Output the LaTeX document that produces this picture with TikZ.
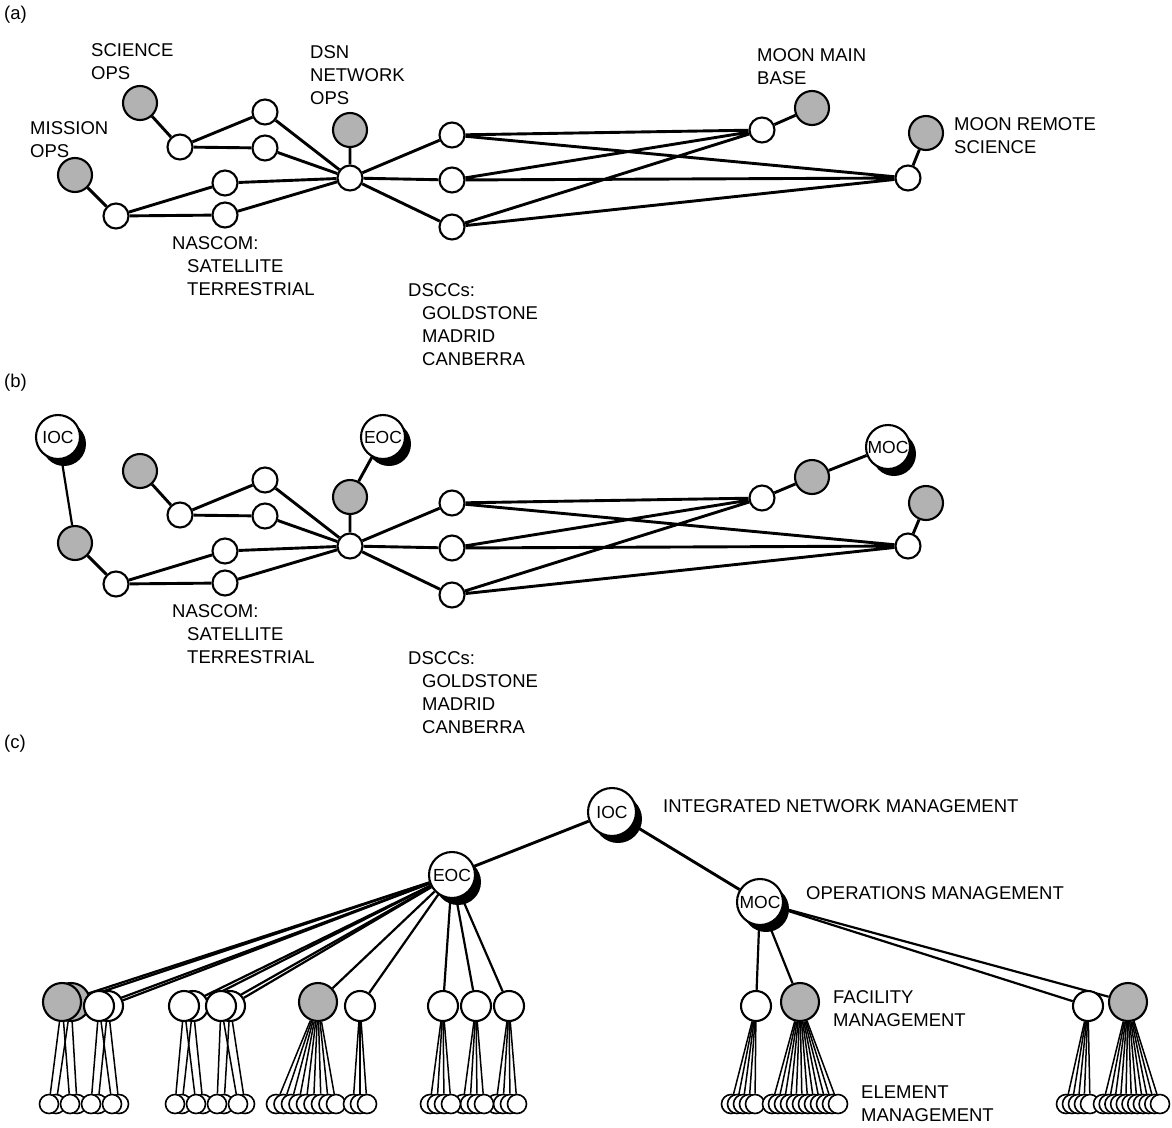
\documentclass[tikz,border=0pt]{standalone}
\usepackage{fontspec}
\setmainfont{Liberation Sans}
\usetikzlibrary{shadows,backgrounds}

\begin{document}
\begin{tikzpicture}[x=1pt, y=-1pt,
    site/.style={circle, draw=black, line width=2.1pt, fill=white,
        minimum size=25pt, inner sep=0pt},
    opsite/.style={site, fill=black!30, minimum size=34pt},
    opctr/.style={site, minimum size=44pt, font=\fontsize{17.5}{17.5}\selectfont,
        drop shadow={shadow xshift=6pt, shadow yshift=-7pt, opacity=1, fill=black}},
    net/.style={site, minimum size=30pt},
    fac/.style={opsite, minimum size=38pt},
    elem/.style={site, line width=1.6pt, minimum size=19pt},
    link/.style={line width=2.9pt},
    limb/.style={line width=2.2pt},
    twig/.style={line width=1.5pt},
    txt/.style={anchor=north west, align=left, inner sep=0pt,
        font=\fontsize{18.5}{23}\selectfont}
]
    \useasboundingbox (0,0) rectangle (1172,1127);

    % (a)
    \node[txt, anchor=base west] at (4,19) {(a)};
    \node[opsite] (scia) at (140,103) {};
    \node[opsite] (misa) at (75,175) {};
    \node[opsite] (dsna) at (350,130) {};
    \node[opsite] (mmba) at (812,108) {};
    \node[opsite] (mrsa) at (926,133) {};
    \node[site] (s1a) at (180,147) {};
    \node[site] (u1a) at (265,112) {};
    \node[site] (u2a) at (265,148) {};
    \node[site] (m1a) at (116,216) {};
    \node[site] (n1a) at (225,183) {};
    \node[site] (n2a) at (225,215) {};
    \node[site] (huba) at (350,178) {};
    \node[site] (cc1a) at (452,135) {};
    \node[site] (cc2a) at (452,180) {};
    \node[site] (cc3a) at (452,227) {};
    \node[site] (mba) at (762,130) {};
    \node[site] (mra) at (908,178) {};
    \node[txt] at (91,43) {SCIENCE\\OPS};
    \node[txt] at (30,121) {MISSION\\OPS};
    \node[txt] at (310,45) {DSN\\NETWORK\\OPS};
    \node[txt] at (757,48) {MOON MAIN\\BASE};
    \node[txt] at (954,117) {MOON REMOTE\\SCIENCE};
    \node[txt] at (172,236) {NASCOM:\\\hspace*{15pt}SATELLITE\\\hspace*{15pt}TERRESTRIAL};
    \node[txt] at (408,283) {DSCCs:\\\hspace*{14pt}GOLDSTONE\\\hspace*{14pt}MADRID\\\hspace*{14pt}CANBERRA};

    % (b)
    \node[txt, anchor=base west] at (4,387) {(b)};
    \node[opctr] (iocb) at (58,437) {IOC};
    \node[opctr] (eocb) at (383,437) {EOC};
    \node[opctr] (mocb) at (888,447) {MOC};
    \node[opsite] (scib) at (140,471) {};
    \node[opsite] (misb) at (75,543) {};
    \node[opsite] (dsnb) at (350,497) {};
    \node[opsite] (mmbb) at (812,477) {};
    \node[opsite] (mrsb) at (926,503) {};
    \node[site] (s1b) at (180,515) {};
    \node[site] (u1b) at (265,480) {};
    \node[site] (u2b) at (265,516) {};
    \node[site] (m1b) at (116,584) {};
    \node[site] (n1b) at (225,551) {};
    \node[site] (n2b) at (225,583) {};
    \node[site] (hubb) at (350,546) {};
    \node[site] (cc1b) at (452,503) {};
    \node[site] (cc2b) at (452,548) {};
    \node[site] (cc3b) at (452,595) {};
    \node[site] (mbb) at (762,498) {};
    \node[site] (mrb) at (908,546) {};
    \node[txt] at (172,604) {NASCOM:\\\hspace*{15pt}SATELLITE\\\hspace*{15pt}TERRESTRIAL};
    \node[txt] at (408,651) {DSCCs:\\\hspace*{14pt}GOLDSTONE\\\hspace*{14pt}MADRID\\\hspace*{14pt}CANBERRA};

    % (c)
    \node[txt, anchor=base west] at (4,748) {(c)};
    \node[opctr, minimum size=48pt] (ioc) at (612,812) {IOC};
    \node[opctr, minimum size=46pt] (eoc) at (452,875) {EOC};
    \node[opctr, minimum size=46pt] (moc) at (760,902) {MOC};
    \node[txt, anchor=base west] at (663,812) {INTEGRATED NETWORK MANAGEMENT};
    \node[txt, anchor=base west] at (806,899) {OPERATIONS MANAGEMENT};
    \node[txt] at (833,990) {FACILITY\\MANAGEMENT};
    \node[txt] at (861,1086) {ELEMENT\\MANAGEMENT};

    % stacked facilities under EOC
    \node[fac] (A2) at (71,1002) {};
    \node[fac] (A1) at (62,1002) {};
    \node[net] (B2) at (108,1006) {};
    \node[net] (B1) at (99,1006) {};
    \node[net] (C2) at (193,1006) {};
    \node[net] (C1) at (184,1006) {};
    \node[net] (D2) at (230,1006) {};
    \node[net] (D1) at (221,1006) {};
    \node[fac] (E) at (318,1002) {};
    \node[net] (F) at (360,1006) {};
    \node[net] (G) at (443,1006) {};
    \node[net] (H) at (476,1006) {};
    \node[net] (I) at (509,1006) {};
    % facilities under MOC
    \node[net] (J) at (756,1006) {};
    \node[fac] (K) at (800,1002) {};
    \node[net] (L) at (1088,1006) {};
    \node[fac] (M) at (1128,1002) {};

    % elements
    \foreach \x/\n in {56/a2, 49/a1, 77/a4, 70/a3, 98/b2, 91/b1, 119/b4, 112/b3,
                       182/c2, 175/c1, 203/c4, 196/c3, 224/d2, 217/d1, 245/d4, 238/d3}
        \node[elem] (\n) at (\x,1104) {};
    \foreach \k in {0,...,8}
        \node[elem] (e\k) at ({276+7.5*\k},1104) {};
    \foreach \k in {0,...,2}
        \node[elem] (f\k) at ({353+7*\k},1104) {};
    \foreach \k in {0,...,3} {
        \node[elem] (g\k) at ({430+7*\k},1104) {};
        \node[elem] (h\k) at ({463+7*\k},1104) {};
        \node[elem] (i\k) at ({496+7*\k},1104) {};
    }
    \foreach \k in {0,...,4}
        \node[elem] (j\k) at ({731+6*\k},1104) {};
    \foreach \k in {0,...,11}
        \node[elem] (k\k) at ({772+6*\k},1104) {};
    \foreach \k in {0,...,4}
        \node[elem] (l\k) at ({1066+6*\k},1104) {};
    \foreach \k in {0,...,10}
        \node[elem] (m\k) at ({1103+5.7*\k},1104) {};

    \begin{scope}[on background layer]
        % (a) links
        \draw[link] (scia) -- (s1a) (s1a) -- (u1a) (s1a) -- (u2a)
            (u1a) -- (huba) (u2a) -- (huba)
            (misa) -- (m1a) (m1a) -- (n1a) (m1a) -- (n2a)
            (n1a) -- (huba) (n2a) -- (huba) (dsna) -- (huba)
            (huba) -- (cc1a) (huba) -- (cc2a) (huba) -- (cc3a)
            (cc1a) -- (mba) (cc1a) -- (mra) (cc2a) -- (mba) (cc2a) -- (mra)
            (cc3a) -- (mba) (cc3a) -- (mra)
            (mba) -- (mmba) (mra) -- (mrsa);
        % (b) links
        \draw[link] (scib) -- (s1b) (s1b) -- (u1b) (s1b) -- (u2b)
            (u1b) -- (hubb) (u2b) -- (hubb)
            (misb) -- (m1b) (m1b) -- (n1b) (m1b) -- (n2b)
            (n1b) -- (hubb) (n2b) -- (hubb) (dsnb) -- (hubb)
            (hubb) -- (cc1b) (hubb) -- (cc2b) (hubb) -- (cc3b)
            (cc1b) -- (mbb) (cc1b) -- (mrb) (cc2b) -- (mbb) (cc2b) -- (mrb)
            (cc3b) -- (mbb) (cc3b) -- (mrb)
            (mbb) -- (mmbb) (mrb) -- (mrsb)
            (eocb) -- (dsnb) (mocb) -- (mmbb);
        \draw[limb] (iocb) -- (misb);
        % (c) links
        \draw[link] (ioc) -- (eoc) (ioc) -- (moc);
        \foreach \p in {A2,A1,B2,B1,C2,C1,D2,D1,E,F,G,H,I}
            \draw[limb] (eoc) -- (\p);
        \foreach \p in {J,K,L,M}
            \draw[limb] (moc) -- (\p);
        \foreach \p/\n in {A1/a1, A1/a3, A2/a2, A2/a4, B1/b1, B1/b3, B2/b2, B2/b4,
                           C1/c1, C1/c3, C2/c2, C2/c4, D1/d1, D1/d3, D2/d2, D2/d4}
            \draw[twig] (\p) -- (\n);
        \foreach \k in {0,...,8} \draw[twig] (E) -- (e\k);
        \foreach \k in {0,...,2} \draw[twig] (F) -- (f\k);
        \foreach \k in {0,...,3} {
            \draw[twig] (G) -- (g\k);
            \draw[twig] (H) -- (h\k);
            \draw[twig] (I) -- (i\k);
        }
        \foreach \k in {0,...,4} \draw[twig] (J) -- (j\k);
        \foreach \k in {0,...,11} \draw[twig] (K) -- (k\k);
        \foreach \k in {0,...,4} \draw[twig] (L) -- (l\k);
        \foreach \k in {0,...,10} \draw[twig] (M) -- (m\k);
    \end{scope}
\end{tikzpicture}
\end{document}
